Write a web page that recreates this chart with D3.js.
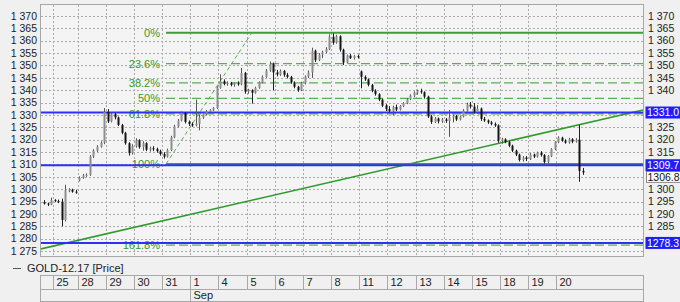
<!DOCTYPE html>
<html><head><meta charset="utf-8">
<script src="https://cdn.jsdelivr.net/npm/d3@7/dist/d3.min.js"></script>
<style>
html,body{margin:0;padding:0;background:#f0f0f0;}
svg{display:block;font-family:"Liberation Sans",Arial,sans-serif;}
</style></head>
<body><svg id="c" width="680" height="302"></svg>
<script>
// ---------- DATA ----------
const dayLabels = ["24","25","28","29","30","31","1","4","5","6","7","8","11","12","13","14","15","18","19","20"];
const barsPerDay = [3,7,8,8,8,8,8,8,8,8,8,8,8,8,8,8,8,8,8,8];
const monthLabels = ["", "Sep"];
const monthStartDay = [0, 6];
const yTicks = d3.range(1275, 1371, 5);
// OHLC per bar
const candles = [
[1294.8,1295.6,1293.8,1294.2],[1294.2,1294.6,1293.2,1293.8],[1293.8,1296.6,1293.6,1295.6],
[1295.6,1296.0,1294.8,1295.2],[1295.2,1295.8,1294.4,1295.0],[1295.0,1296.2,1285.0,1287.6],[1287.6,1301.8,1287.0,1299.6],[1299.6,1300.4,1298.8,1299.8],[1299.8,1300.2,1298.6,1299.0],[1299.0,1299.8,1298.2,1298.6],
[1303.6,1305.2,1303.2,1304.6],[1304.6,1306.2,1304.2,1305.6],[1305.6,1306.4,1305.0,1305.8],[1305.8,1313.8,1305.4,1313.2],[1313.2,1316.2,1312.6,1315.6],[1315.6,1317.8,1315.0,1317.2],[1317.2,1319.4,1316.8,1318.8],[1318.8,1332.8,1318.2,1331.2],
[1331.2,1332.4,1326.8,1327.4],[1327.4,1331.2,1327.0,1330.4],[1330.4,1330.8,1328.2,1329.0],[1329.0,1329.4,1325.6,1326.0],[1326.0,1326.4,1322.2,1322.8],[1322.8,1323.2,1318.0,1318.6],[1318.6,1319.0,1313.6,1314.6],[1314.6,1318.2,1314.0,1317.4],
[1317.4,1320.6,1316.8,1319.8],[1319.8,1320.2,1316.4,1317.0],[1317.0,1319.4,1315.6,1318.6],[1318.6,1319.0,1315.4,1316.0],[1316.0,1317.2,1315.2,1316.6],[1316.6,1317.4,1315.4,1316.2],[1316.2,1316.8,1314.8,1315.4],[1315.4,1316.0,1313.6,1314.2],
[1314.2,1315.0,1312.4,1313.2],[1313.2,1316.4,1312.8,1315.8],[1315.8,1321.6,1315.4,1321.0],[1321.0,1326.0,1320.6,1325.4],[1325.4,1328.4,1325.0,1327.8],[1327.8,1331.4,1327.4,1330.8],[1330.8,1331.2,1326.6,1327.2],[1327.2,1327.8,1325.6,1326.4],
[1326.4,1327.0,1325.2,1325.8],[1325.8,1336.2,1325.4,1326.4],[1326.4,1330.2,1323.8,1329.0],[1329.0,1331.2,1328.4,1330.6],[1330.6,1332.0,1330.0,1331.4],[1331.4,1332.4,1331.0,1332.0],[1332.0,1333.2,1331.6,1332.8],[1332.8,1341.6,1332.4,1341.0],
[1341.0,1346.4,1340.6,1343.6],[1343.6,1344.4,1342.0,1342.6],[1342.6,1343.6,1341.8,1343.0],[1343.0,1343.4,1341.6,1342.2],[1342.2,1343.2,1341.4,1342.8],[1342.8,1343.6,1341.8,1342.4],[1342.4,1349.0,1342.0,1347.0],[1347.0,1347.4,1338.6,1339.4],
[1339.4,1340.6,1338.6,1340.0],[1340.0,1340.4,1334.6,1339.0],[1339.0,1341.4,1338.6,1341.0],[1341.0,1343.6,1340.6,1343.2],[1343.2,1346.0,1342.8,1345.4],[1345.4,1348.6,1345.0,1348.0],[1348.0,1351.6,1347.4,1350.6],[1350.6,1351.2,1340.0,1347.2],
[1347.2,1348.2,1345.6,1346.4],[1346.4,1348.4,1345.8,1347.8],[1347.8,1348.2,1345.4,1346.2],[1346.2,1347.0,1344.8,1345.4],[1345.4,1345.8,1342.6,1343.2],[1343.2,1343.6,1340.8,1341.4],[1341.4,1341.8,1339.4,1340.0],[1340.0,1343.4,1339.6,1342.8],
[1342.8,1346.0,1342.4,1345.6],[1345.6,1348.0,1345.0,1347.2],[1347.2,1357.2,1345.0,1356.0],[1356.0,1356.4,1351.4,1352.2],[1352.2,1355.0,1351.8,1354.4],[1354.4,1356.0,1353.0,1355.4],[1355.4,1357.4,1355.0,1356.6],[1356.6,1362.6,1356.2,1361.6],
[1361.6,1363.0,1358.4,1359.2],[1359.2,1362.4,1358.8,1361.8],[1361.8,1362.2,1355.6,1356.4],[1356.4,1356.8,1350.2,1351.2],[1351.2,1354.4,1350.8,1354.0],[1354.0,1354.6,1352.6,1353.0],[1353.0,1354.2,1352.4,1353.8],[1353.8,1354.4,1352.8,1353.4],
[1347.6,1348.0,1340.8,1345.4],[1345.4,1346.0,1343.8,1344.4],[1344.4,1344.8,1341.6,1342.2],[1342.2,1342.6,1339.2,1339.8],[1339.8,1340.4,1337.8,1338.4],[1338.4,1338.8,1335.6,1336.2],[1336.2,1336.6,1333.2,1333.8],[1333.8,1334.4,1331.6,1332.4],
[1332.4,1333.6,1331.0,1331.6],[1331.6,1333.8,1330.0,1333.2],[1333.2,1334.2,1331.6,1332.2],[1332.2,1334.0,1331.8,1333.6],[1333.6,1335.2,1333.2,1334.8],[1334.8,1336.8,1334.4,1336.4],[1336.4,1338.4,1336.0,1337.8],[1337.8,1339.6,1337.2,1339.0],
[1339.0,1340.2,1338.2,1339.6],[1339.6,1340.6,1338.6,1339.2],[1339.2,1339.6,1336.6,1337.4],[1337.4,1337.8,1328.8,1329.4],[1329.4,1330.0,1326.4,1327.2],[1327.2,1329.2,1326.8,1328.6],[1328.6,1329.0,1326.6,1327.4],[1327.4,1328.8,1326.8,1328.2],
[1328.2,1328.8,1326.8,1327.6],[1327.6,1332.0,1321.2,1329.0],[1329.0,1330.2,1327.0,1329.6],[1329.6,1330.0,1327.6,1328.2],[1328.2,1329.8,1327.8,1329.4],[1329.4,1332.4,1329.0,1331.8],[1331.8,1335.0,1331.4,1334.2],[1334.2,1335.2,1332.6,1333.4],
[1333.4,1334.8,1330.6,1331.2],[1331.2,1334.0,1330.4,1332.6],[1332.6,1333.0,1327.6,1328.4],[1328.4,1329.2,1327.2,1327.8],[1327.8,1328.2,1326.4,1327.0],[1327.0,1327.6,1325.8,1326.4],[1326.4,1327.0,1325.2,1325.8],[1325.8,1326.2,1318.8,1319.6],
[1319.6,1320.8,1318.4,1320.2],[1320.2,1320.6,1318.6,1319.0],[1319.0,1319.6,1317.0,1317.6],[1317.6,1318.0,1315.0,1315.6],[1315.6,1316.0,1313.4,1314.0],[1314.0,1314.4,1311.2,1311.8],[1311.8,1313.4,1311.2,1312.8],[1312.8,1313.4,1311.4,1312.2],
[1312.2,1314.6,1311.8,1314.0],[1314.0,1314.4,1312.6,1313.2],[1313.2,1315.2,1312.8,1314.8],[1314.8,1315.4,1313.2,1313.8],[1313.8,1314.2,1310.4,1311.0],[1311.0,1313.8,1310.6,1313.4],[1313.4,1316.6,1313.0,1316.2],[1316.2,1319.4,1315.8,1319.0],
[1319.0,1321.4,1318.6,1320.8],[1320.8,1321.2,1319.2,1319.6],[1319.6,1320.2,1318.4,1318.8],[1318.8,1320.8,1318.4,1320.2],[1320.2,1320.6,1318.6,1319.2],[1319.2,1320.6,1318.8,1320.0],[1320.0,1326.0,1303.0,1307.4],[1307.4,1308.6,1305.8,1306.8]
];
const fibHigh = 1363.25, fibLow = 1310.2;
const fibLevels = [0, 0.236, 0.382, 0.5, 0.618, 1, 1.618];
const fibLabels = ["0%","23.6%","38.2%","50%","61.8%","100%","161.8%"];
const fibStartBar = 34.6, fibEndBar = 59.0;
const trendBars = [-0.91, 170.1];
const trendPrices = [1275.9, 1332.0];
const blueLevels = [1331.0, 1309.7, 1278.3];
const lastPrice = 1306.8;
const legendText = "GOLD-12.17 [Price]";

// ---------- LAYOUT ----------
const L = 41, R = 643, T = 5, B = 256;
const svg = d3.select("#c");
const x = d3.scaleLinear().domain([-0.91, 170.1]).range([L, R]);
const y = d3.scaleLinear().domain([1275, 1370]).range([251.1, 16]);
const fmt = v => String(v).replace(/(\d)(\d{3})$/, "$1 $2");
const FONT = 10.5;

svg.append("rect").attr("width",680).attr("height",302).attr("fill","#f0f0f0");
svg.append("rect").attr("x",L).attr("y",T).attr("width",R-L).attr("height",B-T).attr("fill","#f4f4f4");

const dayStart = []; let acc = 0;
barsPerDay.forEach(n => { dayStart.push(acc); acc += n; });

const defs = svg.append("defs");
defs.append("clipPath").attr("id","clip").append("rect").attr("x",L).attr("y",T).attr("width",R-L).attr("height",B-T);
const plot = svg.append("g").attr("clip-path","url(#clip)");

// grid
plot.append("g").selectAll("line").data(yTicks).join("line")
  .attr("x1",L).attr("x2",R).attr("y1",d=>Math.round(y(d))+0.5).attr("y2",d=>Math.round(y(d))+0.5)
  .attr("stroke","#aaaaaa").attr("stroke-dasharray","2,2");
plot.append("g").selectAll("line").data(dayStart.slice(1)).join("line")
  .attr("x1",d=>Math.round(x(d-0.5))+0.5).attr("x2",d=>Math.round(x(d-0.5))+0.5).attr("y1",T).attr("y2",B)
  .attr("stroke","#aaaaaa").attr("stroke-dasharray","2,2");

// fib levels
const fibG = plot.append("g");
fibLevels.forEach((lv,i) => {
  const p = fibHigh - (fibHigh - fibLow) * lv;
  const yy = y(p);
  const solid = (lv === 0 || lv === 1);
  fibG.append("line").attr("x1",x(fibStartBar)).attr("x2",R).attr("y1",yy).attr("y2",yy)
    .attr("stroke", solid ? "#3e9e3a" : "#5aaf55").attr("stroke-width", solid ? 2 : 1.2)
    .attr("stroke-dasharray", solid ? null : "9,4");
  fibG.append("text").attr("x", x(fibStartBar)-6).attr("y", yy).attr("dy","0.35em")
    .attr("text-anchor","end").attr("font-size",FONT+0.5).attr("fill","#2f9a2c").text(fibLabels[i]);
});
fibG.append("line").attr("x1",x(fibStartBar)).attr("y1",y(fibLow)).attr("x2",x(fibEndBar)).attr("y2",y(fibHigh))
  .attr("stroke","#5aaf55").attr("stroke-width",1).attr("stroke-dasharray","4,3");

// trendline
plot.append("line").attr("x1",x(trendBars[0])).attr("y1",y(trendPrices[0]))
  .attr("x2",x(trendBars[1])).attr("y2",y(trendPrices[1]))
  .attr("stroke","#2e9a2a").attr("stroke-width",1.6);

// blue levels
plot.append("g").selectAll("line").data(blueLevels).join("line")
  .attr("x1",L).attr("x2",R).attr("y1",d=>y(d)).attr("y2",d=>y(d))
  .attr("stroke","#2f2fff").attr("stroke-width",2);

// candles
const cg = plot.append("g");
candles.forEach((c,i) => {
  const [o,h,l,cl] = c;
  const cx = Math.round(x(i));
  const up = cl >= o;
  cg.append("rect").attr("x",cx).attr("width",1).attr("y",y(h)).attr("height",Math.max(1,y(l)-y(h)))
    .attr("fill", up ? "#555" : "#222");
  const top = y(Math.max(o,cl)), bot = y(Math.min(o,cl));
  cg.append("rect").attr("x",cx-0.5).attr("width",2).attr("y",top).attr("height",Math.max(1,bot-top))
    .attr("fill", up ? "#8e8e8e" : "#151515");
});

// border
svg.append("rect").attr("x",L-0.5).attr("y",T-0.5).attr("width",R-L+1).attr("height",B-T+1)
  .attr("fill","none").attr("stroke","#a8a8a8");

// left axis labels
svg.append("g").selectAll("text").data(yTicks).join("text")
  .attr("x",37).attr("y",d=>y(d)).attr("dy","0.35em").attr("text-anchor","end")
  .attr("font-size",FONT).attr("fill","#222").text(fmt);

// right axis labels (those under price badges are hidden, as in the reference)
const badgeVals = blueLevels.concat([lastPrice]);
const rightTicks = yTicks.filter(t => !badgeVals.some(b => Math.abs(y(t) - y(b)) < 10));
svg.append("g").selectAll("text").data(rightTicks).join("text")
  .attr("x",648).attr("y",d=>y(d)).attr("dy","0.35em")
  .attr("font-size",FONT).attr("fill","#222").text(fmt);

// last price box (sits just under the 1309.7 badge)
const lpY = y(lastPrice) + 4.5;
svg.append("rect").attr("x",646.5).attr("y",lpY-5.5).attr("width",40).attr("height",11)
  .attr("fill","#ffffff").attr("stroke","#888");
svg.append("text").attr("x",647.5).attr("y",lpY+0.5).attr("dy","0.35em").attr("font-size",FONT)
  .attr("fill","#111").text(lastPrice.toFixed(1));
// blue badges
blueLevels.forEach(v => {
  svg.append("rect").attr("x",645.5).attr("y",y(v)-6).attr("width",40).attr("height",12).attr("fill","#1e1eff");
  svg.append("text").attr("x",647).attr("y",y(v)).attr("dy","0.36em").attr("font-size",FONT)
    .attr("fill","#ffffff").text(v.toFixed(1));
});

// legend
svg.append("line").attr("x1",13).attr("x2",21).attr("y1",268.5).attr("y2",268.5).attr("stroke","#555");
svg.append("text").attr("x",27).attr("y",268).attr("dy","0.35em").attr("font-size",FONT+0.5).attr("fill","#222").text(legendText);

// x axis box
const ax = svg.append("g");
ax.append("rect").attr("x",L-0.5).attr("y",275.5).attr("width",R-L+1).attr("height",26).attr("fill","#f0f0f0").attr("stroke","#a8a8a8");
ax.append("line").attr("x1",L).attr("x2",R).attr("y1",289.5).attr("y2",289.5).attr("stroke","#a8a8a8");
dayStart.forEach((s,i) => {
  if (i === 0) return;
  const bx = Math.round(x(s-0.5))+0.5;
  ax.append("line").attr("x1",bx).attr("x2",bx).attr("y1",275.5).attr("y2",289.5).attr("stroke","#a8a8a8");
  ax.append("text").attr("x",bx+3).attr("y",282.5).attr("dy","0.36em").attr("font-size",FONT+0.5).attr("fill","#222").text(dayLabels[i]);
});
monthStartDay.forEach((d,i) => {
  if (i === 0) return;
  const bx = Math.round(x(dayStart[d]-0.5))+0.5;
  ax.append("line").attr("x1",bx).attr("x2",bx).attr("y1",289.5).attr("y2",301).attr("stroke","#a8a8a8");
  ax.append("text").attr("x",bx+3).attr("y",295.5).attr("dy","0.36em").attr("font-size",FONT+0.5).attr("fill","#222").text(monthLabels[i]);
});
</script></body></html>
